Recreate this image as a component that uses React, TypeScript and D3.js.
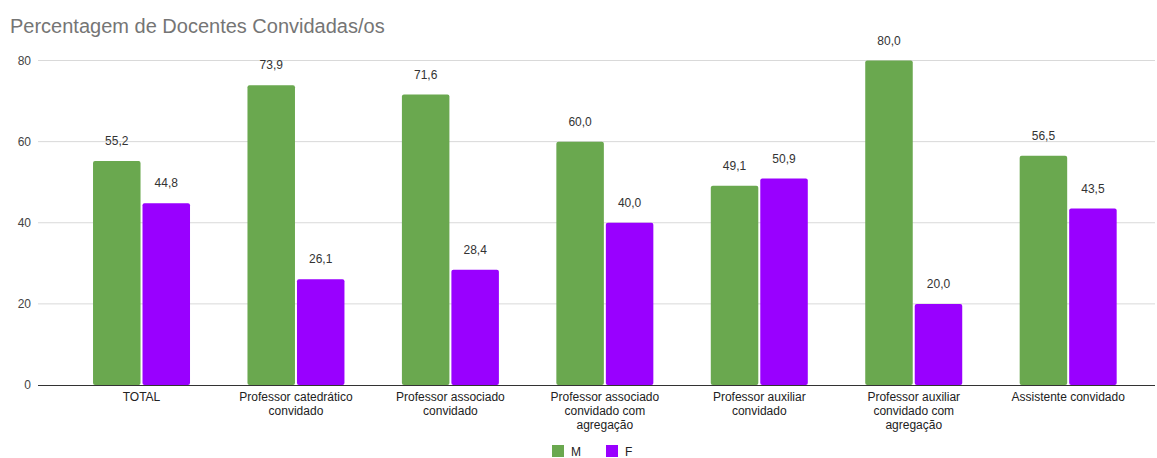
import React from "react";
import * as d3 from "d3";

const categories: string[][] = [
  ["TOTAL"],
  ["Professor catedrático", "convidado"],
  ["Professor associado", "convidado"],
  ["Professor associado", "convidado com", "agregação"],
  ["Professor auxiliar", "convidado"],
  ["Professor auxiliar", "convidado com", "agregação"],
  ["Assistente convidado"],
];
const seriesM: number[] = [55.2, 73.9, 71.6, 60.0, 49.1, 80.0, 56.5];
const seriesF: number[] = [44.8, 26.1, 28.4, 40.0, 50.9, 20.0, 43.5];
const seriesNames = ["M", "F"];
const colors = ["#6aa84f", "#9900ff"];
const yTicks: number[] = [0, 20, 40, 60, 80];

const W = 1157;
const H = 458;

export default function App() {
  const x = d3
    .scaleBand<number>()
    .domain(d3.range(categories.length))
    .range([64.3, 1145.4])
    .paddingInner(0.372)
    .paddingOuter(0.186);
  const inner = d3.scaleBand<number>().domain([0, 1]).range([0, x.bandwidth()]).paddingInner(0.04);
  const y = d3.scaleLinear().domain([0, 80]).range([385, 60.5]);
  const fmt = (v: number) => v.toFixed(1).replace(".", ",");
  const series = [seriesM, seriesF];
  const font = "Arial, 'Liberation Sans', sans-serif";

  return (
    <svg
      width={W}
      height={H}
      style={{ position: "absolute", left: 0, top: 0, background: "#fff" }}
      fontFamily={font}
    >
      <text x={10} y={33} fontSize={20} fill="#757575">
        Percentagem de Docentes Convidadas/os
      </text>
      {yTicks.map((t) => (
        <g key={t}>
          {t !== 0 && (
            <line x1={38} x2={1155} y1={y(t)} y2={y(t)} stroke="#d9d9d9" strokeWidth={1} />
          )}
          <text x={31} y={y(t) + 4} fontSize={12} fill="#444" textAnchor="end">
            {t}
          </text>
        </g>
      ))}
      {series.map((vals, si) =>
        vals.map((v, i) => {
          const bx = (x(i) as number) + (inner(si) as number);
          const bw = inner.bandwidth();
          return (
            <g key={`${si}-${i}`}>
              <rect
                x={bx}
                y={y(v)}
                width={bw}
                height={y(0) - y(v)}
                fill={colors[si]}
                rx={2}
              />
              <text
                x={bx + bw / 2}
                y={y(v) - 16}
                fontSize={12}
                fill="#333"
                textAnchor="middle"
              >
                {fmt(v)}
              </text>
            </g>
          );
        })
      )}
      <line x1={38} x2={1155} y1={y(0) + 0.5} y2={y(0) + 0.5} stroke="#333" strokeWidth={1} />
      {categories.map((lines, i) => (
        <text
          key={i}
          x={(x(i) as number) + x.bandwidth() / 2}
          fontSize={12}
          fill="#222"
          textAnchor="middle"
        >
          {lines.map((l, j) => (
            <tspan key={j} x={(x(i) as number) + x.bandwidth() / 2} y={401 + j * 14}>
              {l}
            </tspan>
          ))}
        </text>
      ))}
      {seriesNames.map((n, i) => (
        <g key={n} transform={`translate(${552 + i * 54},445)`}>
          <rect x={0} y={0} width={12} height={12} fill={colors[i]} />
          <text x={19} y={11} fontSize={12} fill="#222">
            {n}
          </text>
        </g>
      ))}
    </svg>
  );
}
